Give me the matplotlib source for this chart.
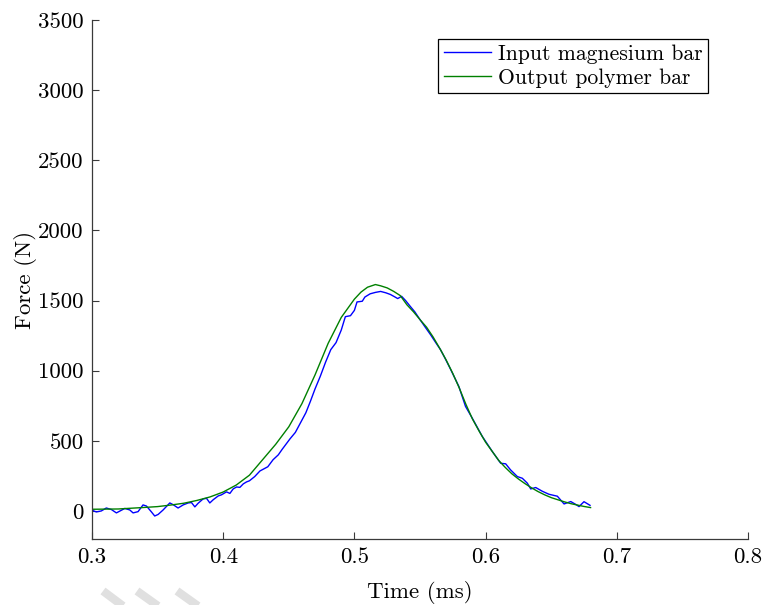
import matplotlib
matplotlib.use("Agg")
import matplotlib.pyplot as plt
from matplotlib.lines import Line2D

plt.rcParams['font.family'] = ['cmr10', 'DejaVu Serif']
plt.rcParams['mathtext.fontset'] = 'cm'
plt.rcParams['axes.unicode_minus'] = False
plt.rcParams['axes.formatter.use_mathtext'] = True

# Input bar force (noisy strain-gauge signal)
t_input = [0.2995, 0.3033, 0.3071, 0.3109, 0.3148, 0.3186, 0.3224, 0.3250, 0.3288, 0.3313,
           0.3351, 0.3389, 0.3415, 0.3453, 0.3478, 0.3504, 0.3542, 0.3593, 0.3618, 0.3656,
           0.3695, 0.3733, 0.3758, 0.3784, 0.3809, 0.3847, 0.3873, 0.3898, 0.3924, 0.3962,
           0.3987, 0.4025, 0.4051, 0.4076, 0.4102, 0.4127, 0.4153, 0.4178, 0.4200, 0.4240,
           0.4280, 0.4310, 0.4340, 0.4380, 0.4420, 0.4450, 0.4510, 0.4550, 0.4590, 0.4630,
           0.4664, 0.4700, 0.4740, 0.4780, 0.4820, 0.4860, 0.4900, 0.4931, 0.4970, 0.5000,
           0.5020, 0.5060, 0.5080, 0.5120, 0.5160, 0.5200, 0.5240, 0.5275, 0.5310, 0.5330,
           0.5360, 0.5390, 0.5427, 0.5460, 0.5500, 0.5540, 0.5580, 0.5620, 0.5656, 0.5690,
           0.5733, 0.5796, 0.5847, 0.5898, 0.5975, 0.6051, 0.6115, 0.6153, 0.6190, 0.6242,
           0.6280, 0.6318, 0.6344, 0.6382, 0.6433, 0.6483, 0.6547, 0.6598, 0.6649, 0.6690,
           0.6712, 0.6750, 0.6796]
f_input = [7, -7, 0, 21, 10, -14, 5, 18, 7, -14,
           -5, 43, 35, -7, -36, -25, 7, 57, 45, 21,
           43, 57, 60, 29, 55, 86, 90, 57, 80, 107,
           115, 136, 125, 157, 171, 168, 193, 207, 215, 245,
           285, 300, 315, 365, 400, 440, 515, 560, 630, 700,
           780, 870, 960, 1060, 1150, 1200, 1290, 1385, 1392, 1430,
           1490, 1495, 1525, 1548, 1558, 1565, 1555, 1543, 1525, 1514,
           1530, 1500, 1457, 1420, 1364, 1310, 1257, 1200, 1150, 1090,
           1010, 888, 745, 662, 531, 424, 340, 336, 293, 245,
           233, 198, 157, 167, 140, 119, 105, 50, 67, 45,
           31, 66, 40]

# Output bar force (smooth signal)
t_output = [0.300, 0.320, 0.340, 0.350, 0.360, 0.370, 0.380, 0.390, 0.400, 0.410,
            0.420, 0.430, 0.440, 0.450, 0.460, 0.470, 0.480, 0.490, 0.500, 0.505,
            0.510, 0.516, 0.520, 0.525, 0.530, 0.535, 0.540, 0.545, 0.550, 0.555,
            0.560, 0.565, 0.570, 0.575, 0.580, 0.585, 0.590, 0.595, 0.600, 0.605,
            0.610, 0.615, 0.620, 0.625, 0.630, 0.635, 0.640, 0.645, 0.650, 0.655,
            0.660, 0.665, 0.670, 0.675, 0.680]
f_output = [12, 14, 25, 31, 42, 55, 75, 100, 135, 185,
            255, 365, 475, 600, 765, 970, 1195, 1380, 1510, 1560,
            1595, 1614, 1605, 1590, 1565, 1535, 1470, 1420, 1364, 1310,
            1240, 1160, 1075, 980, 875, 760, 655, 570, 490, 425,
            360, 310, 265, 228, 195, 165, 138, 115, 95, 80,
            65, 52, 42, 32, 24]

x_ticks = [0.3, 0.4, 0.5, 0.6, 0.7, 0.8]
y_ticks = [0, 500, 1000, 1500, 2000, 2500, 3000, 3500]

W, H = 765, 605
fig = plt.figure(figsize=(W / 100, H / 100), dpi=100)
ax = fig.add_axes([92 / W, 1 - 539 / H, (748 - 92) / W, (539 - 20) / H])

ax.plot(t_input, f_input, color=(0, 0, 1), lw=1.0, label='Input magnesium bar')
ax.plot(t_output, f_output, color=(0, 0.5, 0), lw=1.0, label='Output polymer bar')

ax.set_xlim(0.3, 0.8)
ax.set_ylim(-200, 3500)
ax.set_xticks(x_ticks)
ax.set_xticklabels([f"{v:.1f}" for v in x_ticks])
ax.set_yticks(y_ticks)
ax.set_yticklabels([str(v) for v in y_ticks])

for side in ('top', 'right'):
    ax.spines[side].set_visible(False)
for side in ('left', 'bottom'):
    ax.spines[side].set_color('#3a3a3a')
    ax.spines[side].set_linewidth(0.9)
ax.tick_params(direction='in', length=5, width=0.8, color='#3a3a3a',
               labelsize=16.5, pad=6)

ax.set_xlabel('Time (ms)', fontsize=16.5, labelpad=10)
ax.set_ylabel('Force (N)', fontsize=16.5, labelpad=1)

leg = ax.legend(loc='upper right', bbox_to_anchor=(708 / W, 1 - 39 / H),
                bbox_transform=fig.transFigure, borderaxespad=0,
                fontsize=15.6, frameon=True, fancybox=False, framealpha=1,
                handlelength=2.2, handletextpad=0.3, borderpad=0.25,
                labelspacing=0.2)
leg.get_frame().set_edgecolor('black')
leg.get_frame().set_linewidth(0.9)

# faint grey slashes along the lower-left edge
for x0, x1 in [(103, 123), (137, 158), (177, 198)]:
    fig.add_artist(Line2D([x0 / W, x1 / W], [1 - 591 / H, 1 - 606 / H],
                          transform=fig.transFigure, color='#e0e0e0',
                          lw=6, solid_capstyle='butt'))

fig.savefig('out.png', dpi=100)
